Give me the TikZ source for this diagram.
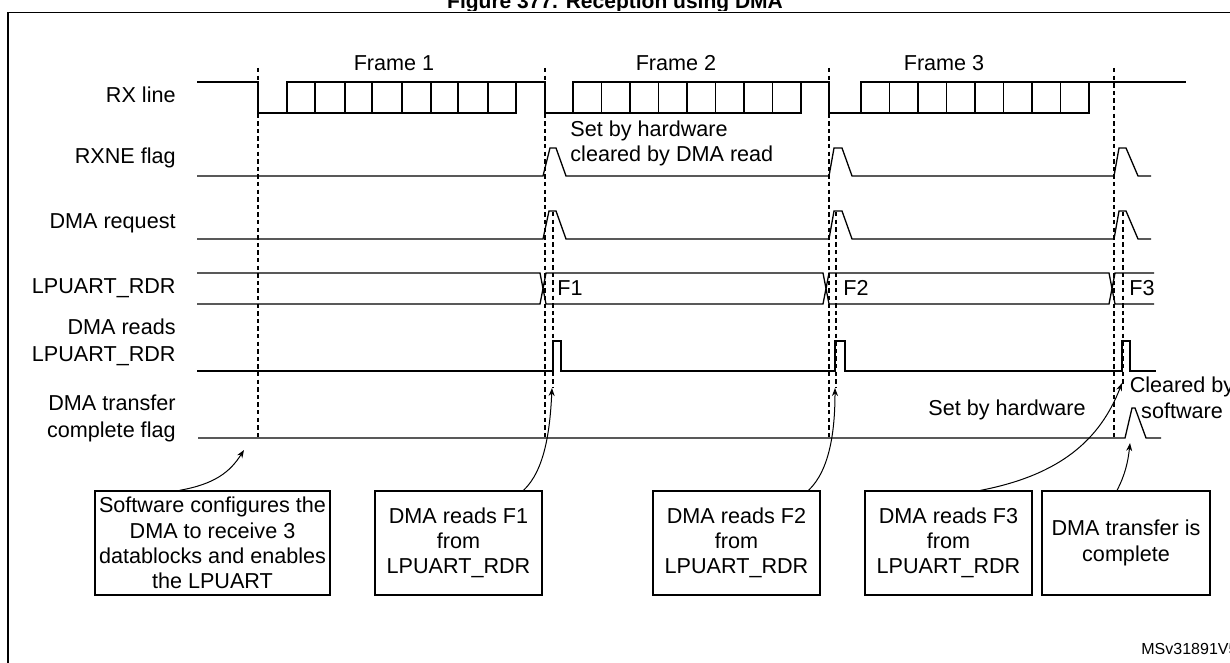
\documentclass[tikz,border=0pt]{standalone}
\usepackage{fontspec}
\setmainfont{Liberation Sans}
\usetikzlibrary{arrows.meta}
\begin{document}
\begin{tikzpicture}[x=0.5pt,y=-0.5pt,
  sig/.style={line width=0.65pt},
  dsh/.style={line width=0.6pt,dash pattern=on 2.2pt off 1.6pt},
  lbl/.style={font=\fontsize{10.8}{13.5}\selectfont,align=right,anchor=east,inner sep=0pt},
  txt/.style={font=\fontsize{10.8}{12.8}\selectfont,align=center,inner sep=0pt},
  box/.style={draw,line width=0.65pt,font=\fontsize{10.8}{12.6}\selectfont,align=center,inner sep=0pt,minimum height=52pt},
  arr/.style={line width=0.5pt,-{Stealth[length=4pt,width=3pt]}}]
\useasboundingbox (0,0) rectangle (1230,663);
\clip (0,0) rectangle (1230,663);
\fill[white] (0,0) rectangle (1230,663);
\node[font=\bfseries\fontsize{10.5}{12}\selectfont,anchor=base] (title) at (615,9) {Figure 377. Reception using DMA};
\fill[white] (0,11) rectangle (1230,12);
\draw[line width=0.8pt] (8,12.5) rectangle (1250,690);
% labels
\node[lbl] (l1) at (176,95) {RX line};
\node[lbl] (l2) at (176,158) {RXNE flag};
\node[lbl] (l3) at (176,223) {DMA request};
\node[lbl] (l4) at (176,288) {LPUART\_RDR};
\node[lbl] (l5) at (176,342) {DMA reads\\LPUART\_RDR};
\node[lbl] (l6) at (176,418) {DMA transfer\\complete flag};
% frame labels
\node[txt] (f1) at (394,63) {Frame 1};
\node[txt] (f2) at (676,63) {Frame 2};
\node[txt] (f3) at (944,63) {Frame 3};
% dashed lines
\draw[dsh] (258,68) -- (258,438);
\draw[dsh] (545,68) -- (545,438);
\draw[dsh] (829,68) -- (829,438);
\draw[dsh] (1114,68) -- (1114,438);
\draw[dsh] (553,212) -- (553,388);
\draw[dsh] (836,212) -- (836,388);
\draw[dsh] (1123,212) -- (1123,385);
% RX line
\draw[sig] (197,82) -- (258,82) -- (258,113) -- (287,113) -- (287,82) -- (545,82) -- (545,113) -- (573,113) -- (573,82) -- (829,82) -- (829,113) -- (861,113) -- (861,82) -- (1186,82);
\draw[sig] (258,113) -- (516,113) -- (516,82);
\foreach \x in {315,345,372,402,431,458,488} \draw[sig] (\x,82) -- (\x,113);
\draw[sig] (545,113) -- (801,113) -- (801,82);
\foreach \i in {1,...,7} \draw[sig] ({573+\i*28.5},82) -- ({573+\i*28.5},113);
\draw[sig] (829,113) -- (1089,113) -- (1089,82);
\foreach \i in {1,...,7} \draw[sig] ({861+\i*28.5},82) -- ({861+\i*28.5},113);
% RXNE
\draw[sig] (197,176) -- (543,176) -- (550,148) -- (556,148) -- (566,176) -- (829,176) -- (834,148) -- (842,148) -- (852,176) -- (1114,176) -- (1119,148) -- (1126,148) -- (1138,176) -- (1151,176);
\node[txt,align=left,anchor=north west] (n1) at (570,120) {Set by hardware\\cleared by DMA read};
% DMA request
\draw[sig] (197,239) -- (543,239) -- (549,211) -- (556,211) -- (566,239) -- (829,239) -- (834,211) -- (842,211) -- (852,239) -- (1114,239) -- (1119,211) -- (1126,211) -- (1138,239) -- (1151,239);
% LPUART_RDR
\draw[sig] (197,273) -- (540,273) -- (546,304) -- (823,304) -- (829,273) -- (1109,273) -- (1115,304) -- (1154,304);
\draw[sig] (197,304) -- (540,304) -- (546,273) -- (823,273) -- (829,304) -- (1109,304) -- (1115,273) -- (1154,273);
\node[txt] (F1) at (570,288) {F1};
\node[txt] (F2) at (856,288) {F2};
\node[txt] (F3) at (1142,288) {F3};
% DMA reads
\draw[sig] (197,371) -- (553,371) -- (553,341) -- (561,341) -- (561,371) -- (835,371) -- (835,341) -- (845,341) -- (845,371) -- (1122,371) -- (1122,341) -- (1130,341) -- (1130,371) -- (1156,371);
% transfer complete
\draw[sig] (198,438) -- (1125,438) -- (1132,408) -- (1135,408) -- (1146,438) -- (1161,438);
\node[txt] (n2) at (1007,410) {Set by hardware};
\node[txt] (n3) at (1182,398) {Cleared by\\software};
% boxes
\node[box,minimum width=117.5pt] (b1) at (212.5,543) {Software configures the\\DMA to receive 3\\datablocks and enables\\the LPUART};
\node[box,minimum width=83.5pt] (b2) at (458.5,543) {DMA reads F1\\from\\LPUART\_RDR};
\node[box,minimum width=83.5pt] (b3) at (736.5,543) {DMA reads F2\\from\\LPUART\_RDR};
\node[box,minimum width=83.5pt] (b4) at (948.5,543) {DMA reads F3\\from\\LPUART\_RDR};
\node[box,minimum width=84pt] (b5) at (1126,543) {DMA transfer is\\complete};
\coordinate (t1) at (244,450);
\coordinate (t2) at (552,388);
\coordinate (t3) at (835,388);
\coordinate (t4) at (1122,383);
\coordinate (t5) at (1130,443);
\draw[arr] ([xshift=-16.5pt]b1.north) .. controls (215,484) and (230,472) .. (t1);
\draw[arr] ([xshift=32.5pt]b2.north) .. controls (545,470) and (550,430) .. (t2);
\draw[arr] ([xshift=36pt]b3.north) .. controls (830,470) and (835,430) .. (t3);
\draw[arr] ([xshift=16pt]b4.north) .. controls (1060,475) and (1100,440) .. (t4);
\draw[arr] ([xshift=-4.5pt]b5.north) .. controls (1125,475) and (1128,462) .. (t5);
\node[font=\fontsize{8}{9}\selectfont,anchor=base west,inner sep=0pt] (id) at (1141,654) {MSv31891V5};
\end{tikzpicture}
\end{document}
